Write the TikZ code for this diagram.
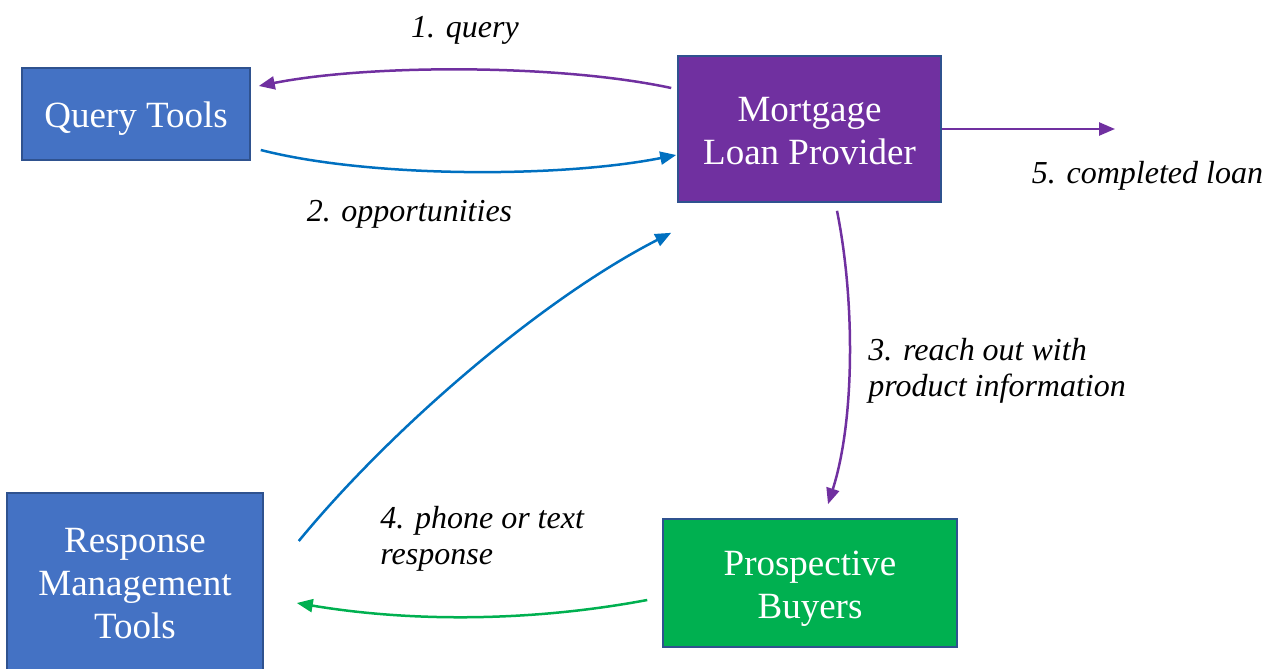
\documentclass[tikz,border=0pt]{standalone}
\usepackage{fontspec}
\setmainfont{Liberation Serif}
\usepackage{xcolor}
\usepackage{tikz}
\usetikzlibrary{positioning,arrows.meta,calc}
\definecolor{dBlue}{HTML}{4472C4}
\definecolor{dEdge}{HTML}{2F528F}
\definecolor{dPurple}{HTML}{7030A0}
\definecolor{dGreen}{HTML}{00B050}
\definecolor{dLine}{HTML}{0070C0}
% same height and depth for every line inside a box
\newcommand\boxstrut{\rule[-4pt]{0pt}{21.5pt}}
\tikzset{
  comp/.style={rectangle, draw=dEdge, line width=0.8pt, fill=dBlue,
               text=white, align=center, inner sep=0pt,
               font=\fontsize{18.5}{21.5}\selectfont},
  prov/.style={comp, fill=dPurple},
  buyer/.style={comp, fill=dGreen},
  flow/.style={-{Triangle[length=8pt,width=6.5pt]}, line width=1.25pt},
  lbl/.style={font=\fontsize{16}{18}\selectfont\itshape, inner sep=0pt, align=left},
}

\begin{document}
\begin{tikzpicture}[x=0.5pt,y=-0.5pt]
  \useasboundingbox (0,0) rectangle (1275,669);
  % boxes
  \node[comp, minimum width=114pt, minimum height=46pt]     (qt)  at (136,114) {\boxstrut Query Tools};
  \node[prov, minimum width=131.5pt, minimum height=73pt]   (mlp) at (809.5,129) {\boxstrut Mortgage\\\boxstrut Loan Provider};
  \node[comp, minimum width=128pt, minimum height=88.5pt]   (rmt) at (135,581.5) {\boxstrut Response\\\boxstrut Management\\\boxstrut Tools};
  \node[buyer, minimum width=147pt, minimum height=64pt]    (pb)  at (810,583) {\boxstrut Prospective\\\boxstrut Buyers};
  \coordinate (done) at (1115,129);
  % connectors
  \draw[flow, dPurple] ($(mlp.west)+(-6,-41)$) .. controls (560,64) and (370,64) .. ($(qt.east)+(8,-28)$);
  \draw[flow, dLine]   ($(qt.east)+(10,36)$) .. controls (370,178) and (560,178) .. ($(mlp.west)+(-1,26)$);
  \draw[flow, dPurple] ($(mlp.south)+(27.5,8)$) .. controls (855,300) and (855,420) .. ($(pb.north)+(18,-14)$);
  \draw[flow, dLine]   ($(rmt.east)+(35,-40.5)$) .. controls (390,430) and (540,300) .. ($(mlp.south west)+(-6,30)$);
  \draw[flow, dGreen]  ($(pb.west)+(-15,17)$) .. controls (530,622) and (410,622) .. ($(rmt.east)+(33,21.5)$);
  \draw[flow, dPurple] (mlp.east) -- (done);
  % labels
  \node[lbl] (l1) at (465,30.5) {1. query};
  \node[lbl] (l2) at (409.5,214.5) {2. opportunities};
  \node[lbl, anchor=west] (l3) at (868,370.5) {3. reach out with\\product information};
  \node[lbl, anchor=west] (l4) at (380,538.5) {4. phone or text\\response};
  \node[lbl] (l5) at (1147.5,175.5) {5. completed loan};
\end{tikzpicture}
\end{document}
